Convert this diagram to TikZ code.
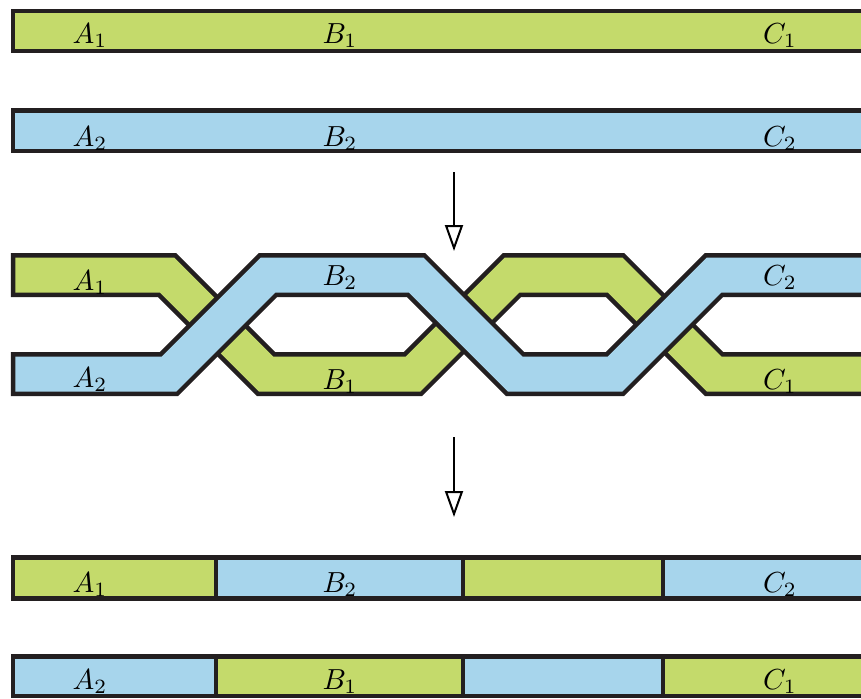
\documentclass[tikz,border=0pt]{standalone}
\usetikzlibrary{arrows.meta}
\definecolor{lgreen}{RGB}{196,218,107}
\definecolor{lblue}{RGB}{167,213,236}
\definecolor{edge}{RGB}{35,31,32}
\begin{document}
\begin{tikzpicture}[x=1pt,y=-1pt,
  bar/.style={draw=edge,line width=4.5pt},
  gbar/.style={bar,fill=lgreen},
  bbar/.style={bar,fill=lblue},
  strandedge/.style={draw=edge,line width=44pt,line join=miter},
  strandfill/.style={line width=35pt,line join=miter},
  lab/.style={anchor=base,inner sep=0pt,font=\normalsize,scale=2.9},
  flow/.style={line width=1.5pt,-{Triangle[open,width=18pt,length=26pt,line width=2pt]}}]
\useasboundingbox (0,0) rectangle (861,698);
\clip (0,0) rectangle (861,698);
% top bars
\path[gbar] (13,11) rectangle (880,51);
\path[bbar] (13,110.5) rectangle (880,151);
\node[lab] (a1t) at (90,43.3) {$A_1$};
\node[lab] (b1t) at (340,43.3) {$B_1$};
\node[lab] (c1t) at (780,43.3) {$C_1$};
\node[lab] (a2t) at (90,146) {$A_2$};
\node[lab] (b2t) at (340,146) {$B_2$};
\node[lab] (c2t) at (780,146) {$C_2$};
% arrows
\coordinate (s1) at (454,172);
\coordinate (e1) at (454,251);
\coordinate (s2) at (454,437);
\coordinate (e2) at (454,517);
\draw[flow] (s1) -- (e1);
\draw[flow] (s2) -- (e2);
% green strand (under)
\draw[strandedge] (10.75,275) -- (167,275) -- (266,374) -- (413,374) -- (512,275) -- (615,275) -- (714,374) -- (890,374);
\draw[strandfill,lgreen] (15.25,275) -- (167,275) -- (266,374) -- (413,374) -- (512,275) -- (615,275) -- (714,374) -- (890,374);
% blue strand (over)
\draw[strandedge] (10.75,374) -- (169,374) -- (268,275) -- (416,275) -- (515,374) -- (615,374) -- (714,275) -- (890,275);
\draw[strandfill,lblue] (15.25,374) -- (169,374) -- (268,275) -- (416,275) -- (515,374) -- (615,374) -- (714,275) -- (890,275);
\node[lab] (a1m) at (90,290) {$A_1$};
\node[lab] (b2m) at (340,285.5) {$B_2$};
\node[lab] (c2m) at (780,285.5) {$C_2$};
\node[lab] (a2m) at (90,387) {$A_2$};
\node[lab] (b1m) at (340,389) {$B_1$};
\node[lab] (c1m) at (780,389) {$C_1$};
% bottom bars
\path[gbar] (13,557.5) rectangle (216,598.5);
\path[bbar] (216,557.5) rectangle (463,598.5);
\path[gbar] (463,557.5) rectangle (663,598.5);
\path[bbar] (663,557.5) rectangle (880,598.5);
\path[bbar] (13,656.5) rectangle (216,696);
\path[gbar] (216,656.5) rectangle (463,696);
\path[bbar] (463,656.5) rectangle (663,696);
\path[gbar] (663,656.5) rectangle (880,696);
\node[lab] (a1b) at (90,592) {$A_1$};
\node[lab] (b2b) at (340,592) {$B_2$};
\node[lab] (c2b) at (780,592) {$C_2$};
\node[lab] (a2b) at (90,689) {$A_2$};
\node[lab] (b1b) at (340,689) {$B_1$};
\node[lab] (c1b) at (780,689) {$C_1$};
\end{tikzpicture}
\end{document}
